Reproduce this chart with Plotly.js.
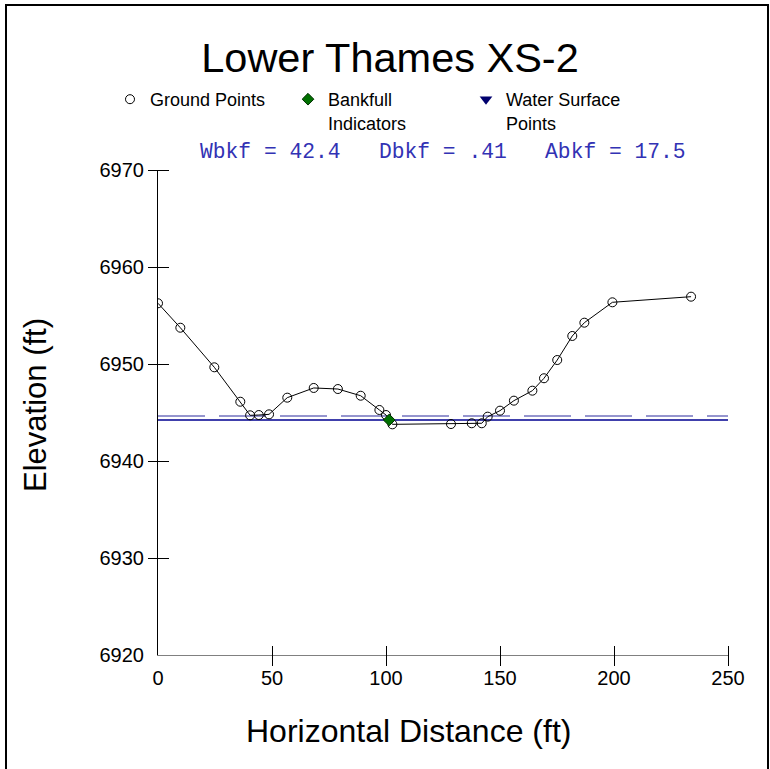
<!DOCTYPE html>
<html><head><meta charset="utf-8">
<script src="https://cdn.plot.ly/plotly-3.0.1.min.js"></script>
<style>html,body{margin:0;padding:0;background:#fff}#chart{width:770px;height:769px}</style>
</head><body><div id="chart"></div><script>
// ---- data ----
const groundX = [0, 9.8, 24.7, 36.1, 40.4, 44.2, 48.7, 56.7, 68.3, 78.9, 88.9, 97.1, 100.0, 102.8, 128.5, 137.6, 142.0, 144.6, 150.0, 156.1, 164.2, 169.3, 175.1, 181.7, 187.0, 199.3, 233.8];
const groundY = [6956.26, 6953.74, 6949.66, 6946.11, 6944.71, 6944.74, 6944.81, 6946.53, 6947.53, 6947.42, 6946.73, 6945.26, 6944.74, 6943.78, 6943.81, 6943.89, 6943.89, 6944.57, 6945.19, 6946.22, 6947.25, 6948.53, 6950.41, 6952.89, 6954.26, 6956.36, 6956.94];
const bankfullX = [101.4];
const bankfullY = [6944.23];
const waterX = [null];   // no water-surface points fall inside the plotted window
const waterY = [null];
const bankfullStage = 6944.23;
const waterStage = 6944.64;
const xRange = [0, 250];
const yRange = [6920, 6970];
const xTicks = [0, 50, 100, 150, 200, 250];
const yTicks = [6920, 6930, 6940, 6950, 6960, 6970];
const titleText = 'Lower Thames XS-2';
const xTitle = 'Horizontal Distance (ft)';
const yTitle = 'Elevation (ft)';
const statsText = 'Wbkf = 42.4&nbsp;&nbsp;&nbsp;Dbkf = .41&nbsp;&nbsp;&nbsp;Abkf = 17.5';

// ---- layout geometry ----
const W = 770, H = 769;
const L = 158, R = 42, T = 170, B = 114;
const pw = W - L - R, ph = H - T - B;
const px = v => (v - L) / pw;           // page x -> paper x
const py = v => (H - B - v) / ph;       // page y -> paper y
const FONT = '"Liberation Sans", Arial, sans-serif';

const traces = [
  {x: groundX, y: groundY, type: 'scatter', mode: 'lines', showlegend: false,
   xaxis: 'x2', yaxis: 'y2', line: {color: '#000', width: 1}, hoverinfo: 'skip'},
  {x: groundX, y: groundY, name: 'Ground Points', type: 'scatter', mode: 'markers',
   xaxis: 'x2', yaxis: 'y2',
   marker: {symbol: 'circle-open', size: 9, color: '#000', line: {width: 1, color: '#000'}}},
  {x: bankfullX, y: bankfullY, name: 'Bankfull<br>Indicators', type: 'scatter', mode: 'markers',
   xaxis: 'x2', yaxis: 'y2',
   marker: {symbol: 'diamond', size: 9, color: '#007000', line: {width: 1, color: '#003000'}}},
  {x: waterX, y: waterY, name: 'Water Surface<br>Points', type: 'scatter', mode: 'markers',
   xaxis: 'x2', yaxis: 'y2',
   marker: {symbol: 'triangle-down', size: 11, color: '#00006e'}},
  {x: xRange, y: [bankfullStage, bankfullStage], type: 'scatter', mode: 'lines', showlegend: false,
   line: {color: '#000090', width: 1.5}, hoverinfo: 'skip'},
  {x: xRange, y: [waterStage, waterStage], type: 'scatter', mode: 'lines', showlegend: false,
   line: {color: '#7373bf', width: 1.5, dash: '47px,14px'}, hoverinfo: 'skip'}
];

const baseAx = {showgrid: false, zeroline: false, fixedrange: true};
const layout = {
  width: W, height: H,
  margin: {l: L, r: R, t: T, b: B, pad: 0},
  paper_bgcolor: '#fff', plot_bgcolor: '#fff',
  font: {family: FONT, color: '#000'},
  showlegend: true,
  title: {text: titleText, font: {family: FONT, size: 41.5, color: '#000'},
          xref: 'paper', x: px(390), xanchor: 'center',
          yref: 'container', y: 1 - 57 / H, yanchor: 'middle'},
  legend: {orientation: 'h', x: px(110), xanchor: 'left', y: py(81), yanchor: 'top',
           font: {family: FONT, size: 18, color: '#000'}, valign: 'top',
           itemwidth: 30, bgcolor: 'rgba(0,0,0,0)', borderwidth: 0,
           entrywidth: 133, entrywidthmode: 'pixels', tracegroupgap: 0},
  xaxis: Object.assign({}, baseAx, {range: xRange, tickvals: xTicks, ticks: '',
          showline: true, linecolor: '#808080', linewidth: 1,
          tickfont: {family: FONT, size: 20}, ticklabelstandoff: 5}),
  yaxis: Object.assign({}, baseAx, {range: yRange, tickvals: yTicks, ticks: '',
          showline: true, linecolor: '#000', linewidth: 1,
          tickfont: {family: FONT, size: 20}, ticklabelstandoff: 9}),
  xaxis2: Object.assign({}, baseAx, {range: xRange, overlaying: 'x', anchor: 'free',
          position: 10 / ph, side: 'bottom', tickvals: xTicks.slice(1), ticks: 'outside',
          ticklen: 20, tickwidth: 1, tickcolor: '#000', showticklabels: false, showline: false}),
  yaxis2: Object.assign({}, baseAx, {range: yRange, overlaying: 'y', anchor: 'free',
          position: 11 / pw, side: 'left', tickvals: yTicks.slice(1), ticks: 'outside',
          ticklen: 21, tickwidth: 1, tickcolor: '#000', showticklabels: false, showline: false}),
  annotations: [
    {text: statsText, xref: 'paper', yref: 'paper', x: px(442.5), y: py(152),
     xanchor: 'center', yanchor: 'middle', showarrow: false,
     font: {family: '"Liberation Mono", "Courier New", monospace', size: 21.3, color: '#3232b4'}},
    {text: xTitle, xref: 'paper', yref: 'paper', x: px(408.5), y: py(731),
     xanchor: 'center', yanchor: 'middle', showarrow: false,
     font: {family: FONT, size: 32, color: '#000'}},
    {text: yTitle, xref: 'paper', yref: 'paper', x: px(35), y: py(405), textangle: -90,
     xanchor: 'center', yanchor: 'middle', showarrow: false,
     font: {family: FONT, size: 31, color: '#000'}}
  ],
  shapes: [
    {type: 'rect', xref: 'paper', yref: 'paper', x0: px(6), x1: px(768), y0: py(775), y1: py(5),
     line: {color: '#000', width: 2}, fillcolor: 'rgba(0,0,0,0)', layer: 'above'}
  ]
};

Plotly.newPlot('chart', traces, layout, {staticPlot: true, displayModeBar: false});
</script></body></html>
